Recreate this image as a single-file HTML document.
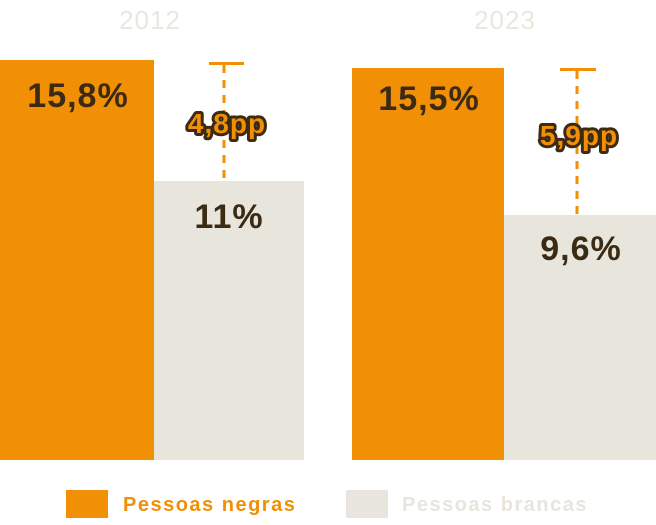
<!DOCTYPE html>
<html><head><style>html,body{margin:0;padding:0;background:#fff;}</style></head>
<body>
<svg width="656" height="520" viewBox="0 0 656 520" xmlns="http://www.w3.org/2000/svg" font-family="Liberation Sans, sans-serif">
<text x="150" y="29" text-anchor="middle" font-size="26" letter-spacing="1" fill="#e9e7de">2012</text>
<text x="505" y="29" text-anchor="middle" font-size="26" letter-spacing="1" fill="#e9e7de">2023</text>
<rect x="0" y="60" width="154" height="400" fill="#f18f05"/>
<rect x="154" y="181" width="150" height="279" fill="#e8e6dc"/>
<rect x="352" y="68" width="152" height="392" fill="#f18f05"/>
<rect x="504" y="215" width="152" height="245" fill="#e8e6dc"/>
<g stroke="#f18f05" stroke-width="3">
<line x1="209" y1="63.5" x2="244" y2="63.5"/>
<line x1="224" y1="65" x2="224" y2="181" stroke-dasharray="8,7"/>
<line x1="560" y1="69.5" x2="596" y2="69.5"/>
<line x1="577" y1="71" x2="577" y2="215" stroke-dasharray="8,7"/>
</g>
<g font-weight="bold" font-size="34" fill="#3b2a14" text-anchor="middle" letter-spacing="1">
<text x="78" y="107">15,8%</text>
<text x="229" y="228">11%</text>
<text x="429" y="110">15,5%</text>
<text x="581" y="260">9,6%</text>
</g>
<g font-weight="bold" font-size="28" fill="#f18f05" stroke="#3b2a14" stroke-width="6" stroke-linejoin="round" paint-order="stroke" text-anchor="middle" letter-spacing="1">
<text x="227" y="133">4,8pp</text>
<text x="579" y="145">5,9pp</text>
</g>
<rect x="66" y="490" width="42" height="28" fill="#f18f05"/>
<text x="123" y="511" font-size="20" font-weight="bold" letter-spacing="1.5" fill="#f18f05">Pessoas negras</text>
<rect x="346" y="490" width="42" height="28" fill="#e8e6dc"/>
<text x="402" y="511" font-size="20" font-weight="bold" letter-spacing="1.5" fill="#e8e6dc">Pessoas brancas</text>
</svg>
</body></html>
